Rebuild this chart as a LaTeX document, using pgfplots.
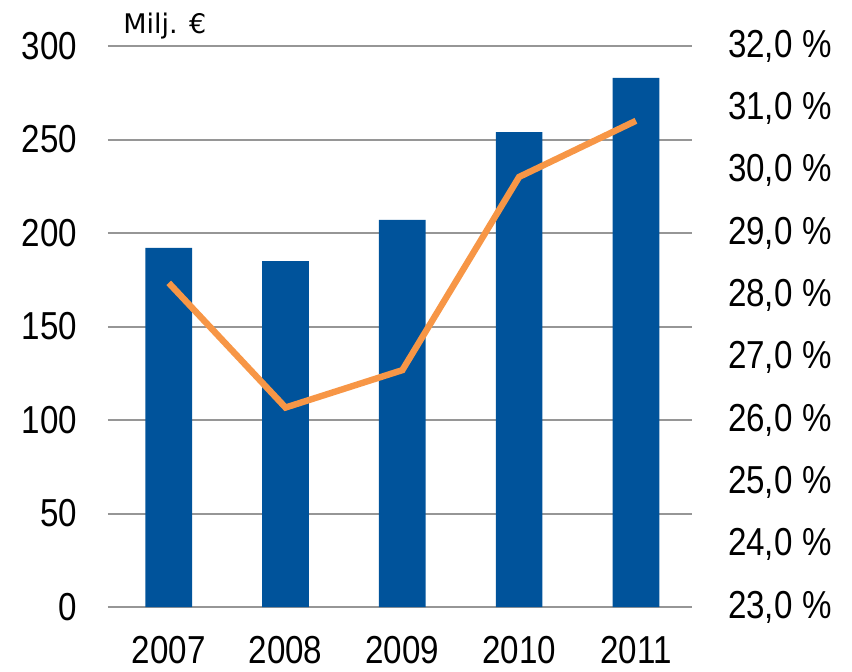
\documentclass[border=0pt]{standalone}
\usepackage{fontspec}
\setmainfont[FakeStretch=0.85]{Liberation Sans}
\newfontfamily\labfont{DejaVu Sans}
\usepackage{pgfplots}
\pgfplotsset{compat=1.18}
\definecolor{barblue}{RGB}{0,83,155}
\definecolor{lineorange}{RGB}{247,150,70}
\definecolor{gridgray}{RGB}{150,150,150}
\begin{document}
\begin{tikzpicture}
\path[use as bounding box] (-54pt,-32pt) rectangle (372pt,303.5pt);
\begin{axis}[
  scale only axis, width=292pt, height=280.5pt,
  xmin=-0.52, xmax=4.48, ymin=0, ymax=300,
  xtick={0,1,2,3,4}, xticklabels={2007,2008,2009,2010,2011},
  ytick={0,50,...,300},
  axis x line*=bottom, axis y line*=left,
  x axis line style={draw=gridgray, line width=1pt, -},
  y axis line style={draw=none},
  major tick length=0pt,
  ymajorgrids, grid style={draw=gridgray, line width=1pt},
  tick label style={font=\fontsize{19.5}{22}\selectfont},
  yticklabel style={xshift=-12pt},
  xticklabel style={yshift=-11pt},
  /pgf/number format/assume math mode=true,
  ybar, bar width=0.4,
]
\addplot[fill=barblue, draw=none] coordinates {(0,192) (1,185) (2,207) (3,254) (4,283)};
\end{axis}
\node[anchor=base west, inner sep=0pt, font=\labfont\fontsize{13.5}{15}\selectfont] at (7.5pt,286.5pt) {Milj. €};
\begin{axis}[
  scale only axis, width=292pt, height=280.5pt,
  xmin=-0.52, xmax=4.48, ymin=23, ymax=32,
  axis x line=none,
  axis y line*=right,
  y axis line style={draw=none},
  major tick length=0pt,
  ytick={23,24,...,32},
  yticklabel={\pgfmathprintnumber[fixed, fixed zerofill, precision=1, use comma]{\tick}\hspace{0.25em}\%},
  yticklabel style={xshift=14.5pt, font=\fontsize{19.5}{22}\selectfont},
  /pgf/number format/assume math mode=true,
]
\addplot[color=lineorange, line width=3.2pt, mark=none] coordinates {(0,28.2) (1,26.2) (2,26.8) (3,29.9) (4,30.8)};
\end{axis}
\end{tikzpicture}
\end{document}
